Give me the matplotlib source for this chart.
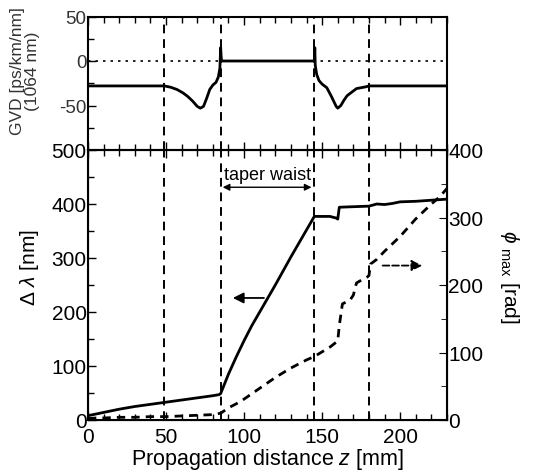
import numpy as np
import matplotlib
matplotlib.use("Agg")
import matplotlib.pyplot as plt
from matplotlib.ticker import MultipleLocator

plt.rcParams['font.family'] = ['Liberation Sans', 'DejaVu Sans']
plt.rcParams['mathtext.fontset'] = 'custom'
plt.rcParams['mathtext.rm'] = 'Liberation Sans'
plt.rcParams['mathtext.it'] = 'Liberation Sans:italic'
plt.rcParams['axes.unicode_minus'] = False

# GVD along the taper (ps/km/nm at 1064 nm)
z_gvd = [0, 49, 53, 57, 61, 64, 67, 70, 72, 74, 76, 78, 80, 82, 83.5, 84.5, 85, 85.3, 85.6,
         145, 145.3, 145.6, 146.5, 148, 150, 153, 156, 159, 160, 162, 164, 166, 169, 172,
         175, 178, 180, 230]
gvd = [-28, -28, -29.5, -32, -36, -40, -45, -51, -53, -51, -42, -32, -27, -24, -18, -8, 15, 5, 0,
       0, 15, -5, -15, -22, -26, -30, -40, -51, -53, -50, -44, -39, -35, -31,
       -30, -29, -28, -28]

# spectral width (nm)
z_dl = [0, 10, 20, 30, 40, 50, 60, 70, 80, 84, 85, 90, 95, 100, 105, 110, 115, 120, 125, 130,
        135, 140, 145, 150, 155, 159, 160, 161, 170, 180, 185, 190, 195, 200, 210, 220, 230]
dl = [8, 14, 20, 25, 29, 33, 37, 41, 45, 47, 49, 85, 117, 147, 175, 200, 225, 250, 276, 302,
      327, 352, 377, 377, 377, 374, 372, 394, 395, 396, 400, 399, 401, 404, 405, 407, 409]

# maximum nonlinear phase (rad)
z_phi = [0, 5, 10, 20, 30, 40, 50, 60, 70, 80, 85, 90, 95, 100, 110, 120, 130, 140, 145, 150,
         155, 160, 161, 163, 168, 170, 172, 175, 179, 180, 181, 185, 190, 200, 210, 220, 225, 230]
phi = [2, 3, 3, 4, 4, 5, 5, 6, 7, 8, 10, 18, 24, 31, 47, 63, 77, 89, 94, 101,
       108, 117, 140, 172, 178, 185, 203, 207, 212, 214, 231, 238, 250, 272, 298, 320, 330, 343]

z_marks = [49, 85, 145, 180]

fig = plt.figure(figsize=(5.48, 4.77), dpi=100)
ax1 = fig.add_axes([88/548, 1-151/477, 359/548, 133.5/477])
ax2 = fig.add_axes([88/548, 1-421/477, 359/548, 270/477])
ax3 = ax2.twinx()

for ax in (ax1, ax2):
    for zm in z_marks:
        ax.axvline(zm, color='k', lw=1.4, ls=(0, (4.5, 3)))
    ax.set_xlim(0, 230)
    ax.xaxis.set_major_locator(MultipleLocator(50))
    ax.xaxis.set_minor_locator(MultipleLocator(10))
    ax.tick_params(which='both', direction='in', top=True, labelsize=15)
    ax.tick_params(which='major', length=6, width=1)
    ax.tick_params(which='minor', length=4, width=1)
    for s in ax.spines.values():
        s.set_linewidth(1.5)

# top panel
ax1.axhline(0, color='k', lw=1.2, ls=(0, (1.5, 3)))
ax1.plot(z_gvd, gvd, color='k', lw=2)
ax1.set_ylim(-100, 50)
ax1.yaxis.set_minor_locator(MultipleLocator(25))
ax1.set_yticks([0, 50, -50])
ax1.tick_params(axis='x', labelbottom=False)
ax1.tick_params(axis='y', labelsize=13.5, labelcolor='#333333', pad=1)
ax1.set_ylabel('GVD [ps/km/nm]\n(1064 nm)', fontsize=12.5, color='#333333',
               linespacing=1.0, va='center')
ax1.yaxis.set_label_coords(-0.175, 0.6)

# bottom panel
ax2.plot(z_dl, dl, color='k', lw=2)
ax2.set_ylim(0, 500)
ax2.yaxis.set_major_locator(MultipleLocator(100))
ax2.yaxis.set_minor_locator(MultipleLocator(50))
ax2.tick_params(axis='y', pad=1)
ax2.tick_params(axis='x', pad=5)
ax2.set_xlabel(r'Propagation distance $z$ [mm]', fontsize=15.5, labelpad=0)
ax2.set_ylabel(r'$\Delta\ \lambda$ [nm]', fontsize=15, va='center')
ax2.yaxis.set_label_coords(-0.162, 0.567)

ax3.plot(z_phi, phi, color='k', lw=2, ls=(0, (3, 2.2)))
ax3.set_ylim(0, 400)
ax3.yaxis.set_major_locator(MultipleLocator(100))
ax3.yaxis.set_minor_locator(MultipleLocator(50))
ax3.tick_params(which='both', direction='in', labelsize=15, pad=1)
ax3.tick_params(which='major', length=6)
ax3.tick_params(which='minor', length=4)
ax3.set_ylabel(r'$\phi$ $_{\mathrm{max}}$ [rad]', fontsize=15, rotation=270, va='center')
ax3.yaxis.set_label_coords(1.175, 0.533)

# annotations
ax2.annotate('', xy=(84.5, 431), xytext=(145, 431),
             arrowprops=dict(arrowstyle='<|-|>', color='k', lw=1, mutation_scale=10))
ax2.text(115, 455, 'taper waist', ha='center', va='center', fontsize=13)
ax2.annotate('', xy=(91, 226), xytext=(114.5, 226),
             arrowprops=dict(arrowstyle='-|>', color='k', lw=1.3, mutation_scale=16))
ax2.annotate('', xy=(216, 286), xytext=(187, 286),
             arrowprops=dict(arrowstyle='-|>', color='k', lw=1.3, ls='--', mutation_scale=16))

fig.savefig('out.png', dpi=100)
